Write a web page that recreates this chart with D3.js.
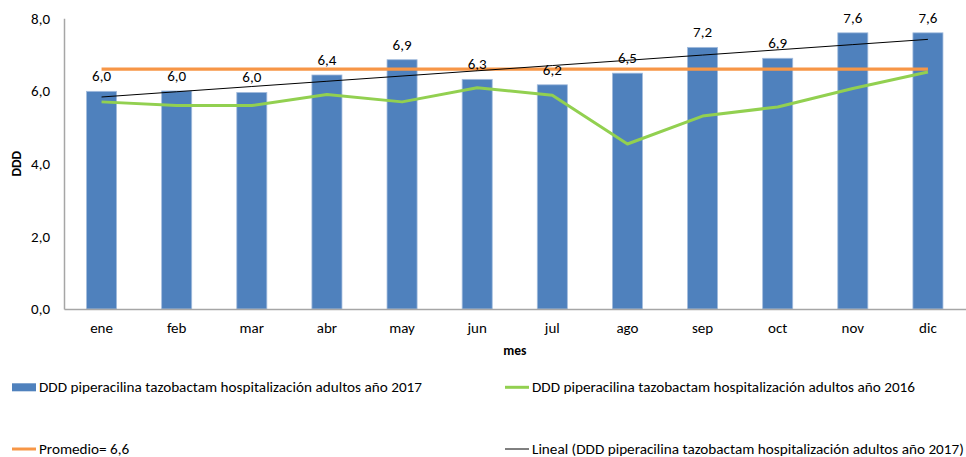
<!DOCTYPE html>
<html>
<head>
<meta charset="utf-8">
<script src="https://cdn.jsdelivr.net/npm/d3@7"></script>
<style>
  html, body { margin: 0; padding: 0; background: #fff; }
  svg { display: block; }
  text { font-family: Carlito, Calibri, Lato, "Open Sans", sans-serif; fill: #000; }
</style>
</head>
<body>
<svg id="chart" width="966" height="457"></svg>
<script>
// Months on the category axis
const months = ["ene", "feb", "mar", "abr", "may", "jun", "jul", "ago", "sep", "oct", "nov", "dic"];
// DDD piperacilina tazobactam, hospitalización adultos, 2017 (bars)
const ddd2017 = [5.99, 6.0, 5.96, 6.44, 6.86, 6.32, 6.17, 6.49, 7.2, 6.9, 7.6, 7.6];
// DDD piperacilina tazobactam, hospitalización adultos, 2016 (line)
const ddd2016 = [5.7, 5.6, 5.6, 5.9, 5.7, 6.09, 5.88, 4.54, 5.31, 5.56, 6.07, 6.52];
// Average reference value
const promedio = 6.6;
// Y axis ticks
const yTicks = [0, 2, 4, 6, 8];

const seriesNames = {
  bars: "DDD piperacilina tazobactam hospitalización adultos año 2017",
  line2016: "DDD piperacilina tazobactam hospitalización adultos año 2016",
  avg: "Promedio= 6,6",
  trend: "Lineal (DDD piperacilina tazobactam hospitalización adultos año 2017)"
};

const colors = { bar: "#4F81BD", barEdge: "#A3BCDD", green: "#92D050", orange: "#F79646", trend: "#000", axis: "#A6A6A6" };

const svg = d3.select("#chart");
const plot = { left: 64, right: 965.5, top: 18.3, bottom: 309 };
const fmt = v => d3.format(".1f")(v).replace(".", ",");
const labelSize = 15;

const x = d3.scaleBand().domain(months).range([plot.left, plot.right]).paddingInner(0.6).paddingOuter(0.3);
const y = d3.scaleLinear().domain([0, 8]).range([plot.bottom, plot.top]);
const cx = m => x(m) + x.bandwidth() / 2;

// Y axis: labels only, gray line
const yAxis = d3.axisLeft(y).tickValues(yTicks).tickFormat(fmt).tickSize(0).tickPadding(14);
const gy = svg.append("g").attr("transform", `translate(${plot.left},0)`).call(yAxis);
gy.select(".domain").attr("stroke", colors.axis).attr("stroke-width", 1.5);
gy.selectAll("text").attr("font-size", labelSize).attr("dy", "0.33em").style("font-family", null);

// Bars
svg.append("g").selectAll("rect").data(months).join("rect")
  .attr("x", m => x(m))
  .attr("width", x.bandwidth())
  .attr("y", (m, i) => y(ddd2017[i]))
  .attr("height", (m, i) => y(0) - y(ddd2017[i]))
  .attr("fill", colors.bar)
  .attr("stroke", colors.barEdge)
  .attr("stroke-width", 0.8);

// X axis: baseline and month labels
const xAxis = d3.axisBottom(x).tickSize(0).tickPadding(13);
const gx = svg.append("g").attr("transform", `translate(0,${plot.bottom})`).call(xAxis);
gx.select(".domain").attr("stroke", colors.axis).attr("stroke-width", 1.5);
gx.selectAll("text").attr("font-size", labelSize).style("font-family", null);

// Average line
svg.append("line")
  .attr("x1", cx(months[0])).attr("x2", cx(months[months.length - 1]))
  .attr("y1", y(promedio)).attr("y2", y(promedio))
  .attr("stroke", colors.orange).attr("stroke-width", 3.2);

// 2016 line
const line = d3.line().x((d, i) => cx(months[i])).y(d => y(d));
svg.append("path").datum(ddd2016)
  .attr("d", line).attr("fill", "none")
  .attr("stroke", colors.green).attr("stroke-width", 3).attr("stroke-linejoin", "round");

// Linear trend of 2017 (least squares)
const idx = ddd2017.map((d, i) => i);
const mx = d3.mean(idx), my = d3.mean(ddd2017);
const slope = d3.sum(idx, i => (i - mx) * (ddd2017[i] - my)) / d3.sum(idx, i => (i - mx) ** 2);
const intercept = my - slope * mx;
const trend = idx.map(i => intercept + slope * i);
svg.append("path").datum(trend)
  .attr("d", line).attr("fill", "none")
  .attr("stroke", colors.trend).attr("stroke-width", 1);

// Data labels over the bars
svg.append("g").selectAll("text").data(months).join("text")
  .attr("x", m => cx(m))
  .attr("y", (m, i) => y(ddd2017[i]) - 10)
  .attr("text-anchor", "middle")
  .attr("font-size", labelSize)
  .text((m, i) => fmt(ddd2017[i]));

// Axis titles
svg.append("text")
  .attr("transform", `translate(20.5,${(plot.top + plot.bottom) / 2}) rotate(-90)`)
  .attr("text-anchor", "middle").attr("font-size", 13.5).attr("font-weight", "bold")
  .text("DDD");
svg.append("text")
  .attr("x", (plot.left + plot.right) / 2).attr("y", 355)
  .attr("text-anchor", "middle").attr("font-size", 13.5).attr("font-weight", "bold")
  .text("mes");

// Legend
const legend = svg.append("g");
function legendItem(x0, yc, kind, color, label) {
  if (kind === "rect") {
    legend.append("rect").attr("x", x0).attr("y", yc - 4).attr("width", 24).attr("height", 8).attr("fill", color);
  } else {
    legend.append("line").attr("x1", x0).attr("x2", x0 + 24).attr("y1", yc).attr("y2", yc)
      .attr("stroke", color).attr("stroke-width", kind === "thin" ? 1 : 3);
  }
  legend.append("text").attr("x", x0 + 27).attr("y", yc + 4.8).attr("font-size", 15.2).text(label);
}
legendItem(12, 387.3, "rect", colors.bar, seriesNames.bars);
legendItem(505, 387.3, "line", colors.green, seriesNames.line2016);
legendItem(12, 449, "line", colors.orange, seriesNames.avg);
legendItem(505, 449, "thin", colors.trend, seriesNames.trend);
</script>
</body>
</html>
